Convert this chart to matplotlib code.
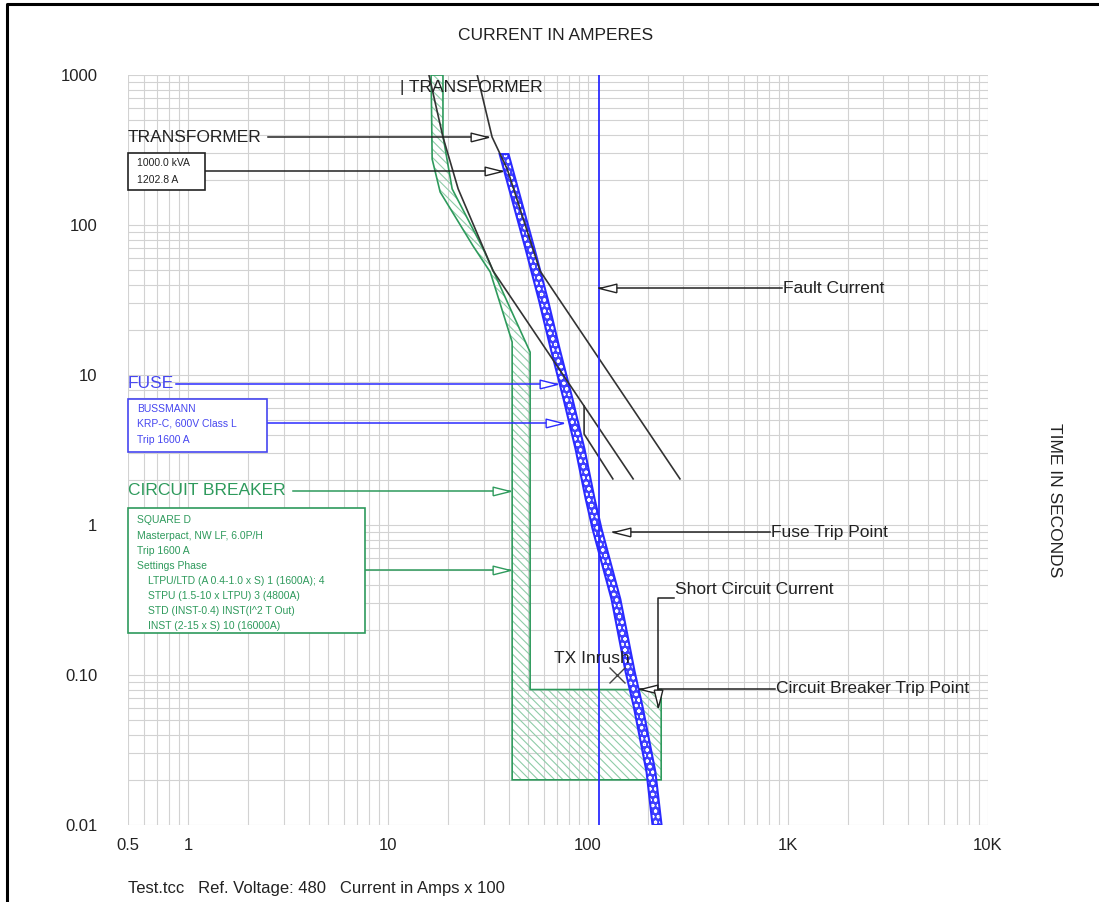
import numpy as np
import matplotlib
matplotlib.use("Agg")
import matplotlib.pyplot as plt
from matplotlib.patches import Polygon, Rectangle
from matplotlib.lines import Line2D
from matplotlib.ticker import LogLocator, NullFormatter

plt.rcParams['font.family'] = ['Liberation Sans', 'DejaVu Sans']
plt.rcParams['hatch.linewidth'] = 0.8

# ---- data: current in amps x 100, time in seconds ----
x_ticks = [0.5, 1, 10, 100, 1000, 10000]
x_labels = ['0.5', '1', '10', '100', '1K', '10K']
y_ticks = [0.01, 0.1, 1, 10, 100, 1000]
y_labels = ['0.01', '0.10', '1', '10', '100', '1000']

# transformer damage curves
tx_a_amps = [16.0, 18.8, 22.4, 33.5, 168]
tx_a_time = [1000, 386, 174, 49.4, 2.03]
tx_a_step_amps = [95.5, 95.5, 133]
tx_a_step_time = [6.21, 4.04, 2.03]
tx_b_amps = [27.9, 33.1, 39.4, 57.5, 288]
tx_b_time = [1000, 386, 236, 49.4, 2.03]

# fuse band (min / max melting)
fuse_time = [297, 69, 32, 15, 6.9, 3.2, 1.5, 0.94, 0.32, 0.105, 0.062, 0.0226, 0.01]
fuse_min = [36.1, 48.7, 56.6, 65.0, 75.4, 86.6, 97.2, 105.3, 131, 154, 169, 196, 210]
fuse_max = [40.0, 54.0, 62.8, 72.0, 83.6, 96.0, 107.7, 116.8, 145, 171, 187, 217, 233]

# circuit breaker band
cb_min_amps = [16.4, 16.6, 18.2, 26.6, 32.4, 41.7, 41.7]
cb_min_time = [1000, 275, 166, 72.4, 48.6, 16.6, 0.02]
cb_max_amps = [18.8, 18.8, 20.9, 29.9, 51.3, 51.3, 232, 232]
cb_max_time = [1000, 392, 174, 69.2, 14.2, 0.08, 0.08, 0.02]

fault_current = 113.5
tx_inrush = (140, 0.1)

BLACK = '#222222'
BLUE = '#2b2bff'
BLUE_TXT = '#4646f0'
GREEN = '#2e9a5c'
GREEN_HATCH = '#8fcca8'

W, H = 1099, 902
fig = plt.figure(figsize=(W / 100, H / 100), dpi=100)
ax = fig.add_axes([128 / W, 77 / H, 860 / W, 750 / H])
ax.set_xscale('log')
ax.set_yscale('log')
ax.set_xlim(0.5, 10000)
ax.set_ylim(0.01, 1000)
ax.xaxis.set_minor_locator(LogLocator(subs=np.arange(2, 10)))
ax.yaxis.set_minor_locator(LogLocator(subs=np.arange(2, 10)))
ax.xaxis.set_minor_formatter(NullFormatter())
ax.yaxis.set_minor_formatter(NullFormatter())
ax.set_xticks(x_ticks, x_labels)
ax.set_yticks(y_ticks, y_labels)
ax.tick_params(which='both', length=0, labelsize=12, colors=BLACK)
ax.tick_params(axis='x', pad=9)
ax.tick_params(axis='y', pad=22)
ax.grid(which='both', color='#d2d2d2', lw=0.8)
ax.set_axisbelow(True)
for s in ax.spines.values():
    s.set_visible(False)

# breaker band
cb_pts = list(zip(cb_min_amps, cb_min_time)) + list(zip(cb_max_amps, cb_max_time))[::-1]
ax.add_patch(Polygon(cb_pts, closed=True, facecolor='none', edgecolor=GREEN_HATCH,
                     hatch='\\\\\\\\', lw=0))
ax.add_patch(Polygon(cb_pts, closed=True, facecolor='none', edgecolor=GREEN, lw=1.2))

# transformer curves
ax.plot(tx_a_amps, tx_a_time, color='#333333', lw=1.2)
ax.plot(tx_a_step_amps, tx_a_step_time, color='#333333', lw=1.2)
ax.plot(tx_b_amps, tx_b_time, color='#333333', lw=1.2)

# fault current
ax.axvline(fault_current, color=BLUE, lw=1.3)

# fuse band
fuse_pts = list(zip(fuse_min, fuse_time)) + list(zip(fuse_max, fuse_time))[::-1]
ax.add_patch(Polygon(fuse_pts, closed=True, facecolor='#4040ff', edgecolor='white',
                     hatch='ooo', lw=0))
ax.add_patch(Polygon(fuse_pts, closed=True, facecolor='none', edgecolor=BLUE, lw=1.5))

# TX inrush point
ax.plot(*tx_inrush, marker='x', ms=11, mew=1.0, color='#444444')

tri_r = [(-2, -0.5), (0, 0), (-2, 0.5), (-2, -0.5)]
tri_l = [(2, -0.5), (0, 0), (2, 0.5), (2, -0.5)]
tri_d = [(-0.5, 2), (0, 0), (0.5, 2), (-0.5, 2)]


def pointer(xs, ys, color, marker):
    ax.plot(xs, ys, color=color, lw=1.1, clip_on=False)
    ax.plot([xs[-1]], [ys[-1]], marker=marker, ms=25, mfc='white', mec=color,
            mew=1.0, clip_on=False)


def label(x, y, s, color=BLACK, size=12.5, **kw):
    ax.text(x, y, s, color=color, fontsize=size, va='center', clip_on=False, **kw)


# left-hand callouts
label(0.5, 386, 'TRANSFORMER')
pointer([2.5, 31.6], [386, 386], BLACK, tri_r)
pointer([1.22, 37.2], [229, 229], BLACK, tri_r)

label(0.5, 8.71, 'FUSE', color=BLUE_TXT)
pointer([0.87, 70], [8.71, 8.71], BLUE, tri_r)
pointer([2.48, 75], [4.79, 4.79], BLUE, tri_r)

label(0.5, 1.686, 'CIRCUIT BREAKER', color=GREEN)
pointer([3.35, 40.7], [1.686, 1.686], GREEN, tri_r)
pointer([7.67, 40.7], [0.501, 0.501], GREEN, tri_r)

# right-hand callouts
label(940, 38.0, 'Fault Current')
pointer([935, 113.5], [38.0, 38.0], BLACK, tri_l)
label(818, 0.898, 'Fuse Trip Point')
pointer([810, 133], [0.898, 0.898], BLACK, tri_l)
label(866, 0.0807, 'Circuit Breaker Trip Point')
pointer([860, 182], [0.0807, 0.0807], BLACK, tri_l)
label(272, 0.374, 'Short Circuit Current')
pointer([268, 224, 224], [0.326, 0.326, 0.0612], BLACK, tri_d)
label(104, 0.128, 'TX Inrush', ha='center')
label(11.5, 820, '| TRANSFORMER')


# boxes with details (figure pixel layout)
def fx(px):
    return px / W


def fy(py):
    return 1 - py / H


def box(x0, y0, x1, y1, color, lines, line_y, indent=None):
    fig.add_artist(Rectangle((fx(x0), fy(y1)), fx(x1) - fx(x0), fy(y0) - fy(y1),
                             transform=fig.transFigure, facecolor='white',
                             edgecolor=color, lw=1.2, zorder=3))
    for i, (s, yy) in enumerate(zip(lines, line_y)):
        xx = 137 if indent is None or i < indent else 148
        fig.text(fx(xx), fy(yy), s, color=color, fontsize=7.5, va='center', zorder=4)


box(128, 153, 205, 190, BLACK, ['1000.0 kVA', '1202.8 A'], [163, 180])
box(128, 399, 267, 452, BLUE_TXT,
    ['BUSSMANN', 'KRP-C, 600V Class L', 'Trip 1600 A'], [409, 424, 440])
box(128, 508, 365, 633, GREEN,
    ['SQUARE D', 'Masterpact, NW LF, 6.0P/H', 'Trip 1600 A', 'Settings Phase',
     'LTPU/LTD (A 0.4-1.0 x S) 1 (1600A); 4', 'STPU (1.5-10 x LTPU) 3 (4800A)',
     'STD (INST-0.4) INST(I^2 T Out)', 'INST (2-15 x S) 10 (16000A)'],
    [520, 536, 551, 566, 581, 596, 611, 626], indent=4)

fig.text(fx(556), fy(35), 'CURRENT IN AMPERES', ha='center', va='center',
         fontsize=12.5, color=BLACK)
fig.text(fx(1055), fy(500), 'TIME IN SECONDS', ha='center', va='center',
         rotation=270, fontsize=12.5, color=BLACK)
fig.text(fx(128), fy(888), 'Test.tcc   Ref. Voltage: 480   Current in Amps x 100',
         ha='left', va='center', fontsize=12, color=BLACK)

# outer frame
fig.add_artist(Line2D([fx(7), fx(7), 1], [0, fy(4), fy(4)], color='black', lw=2.2,
                      transform=fig.transFigure))

fig.savefig('out.png', dpi=100)
